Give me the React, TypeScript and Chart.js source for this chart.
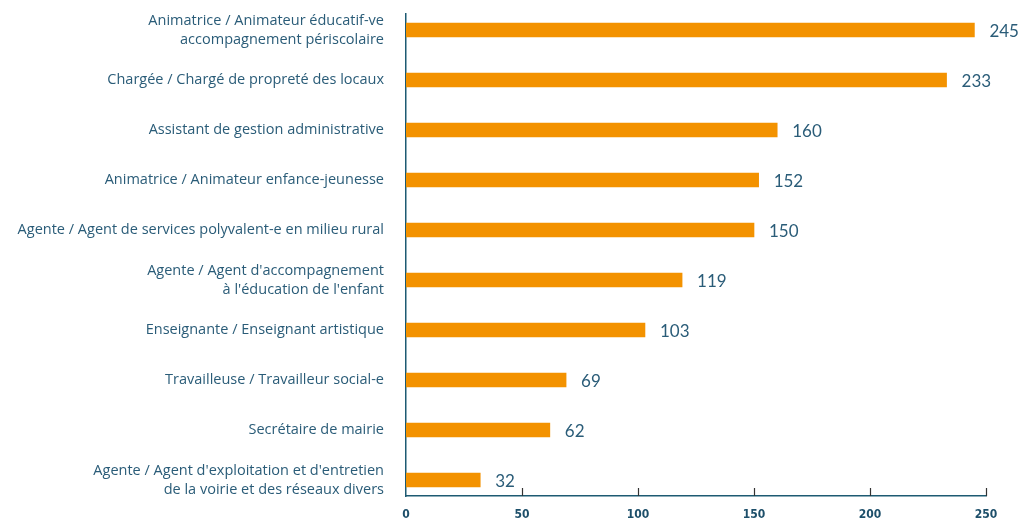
import React, { useEffect, useRef } from "react";
import { Chart, registerables } from "chart.js";

Chart.register(...registerables);

const categories: (string | string[])[] = [
  ["Animatrice / Animateur éducatif-ve", "accompagnement périscolaire"],
  "Chargée / Chargé de propreté des locaux",
  "Assistant de gestion administrative",
  "Animatrice / Animateur enfance-jeunesse",
  "Agente / Agent de services polyvalent-e en milieu rural",
  ["Agente / Agent d'accompagnement", "à l'éducation de l'enfant"],
  "Enseignante / Enseignant artistique",
  "Travailleuse / Travailleur social-e",
  "Secrétaire de mairie",
  ["Agente / Agent d'exploitation et d'entretien", "de la voirie et des réseaux divers"],
];
const values: number[] = [245, 233, 160, 152, 150, 119, 103, 69, 62, 32];
const xTicks: number[] = [0, 50, 100, 150, 200, 250];

const BAR = "#f39200";
const TEXT = "#2a5c78";
const AXIS = "#1d5a72";
const Y_MIN = -0.32;
const Y_MAX = 9.32;

export default function App() {
  const ref = useRef<HTMLCanvasElement | null>(null);
  useEffect(() => {
    if (!ref.current) return;
    const extras = {
      id: "extras",
      afterDatasetsDraw(chart: any) {
        const { ctx, scales, chartArea } = chart;
        const xs = scales.x;
        ctx.save();
        ctx.strokeStyle = "#333";
        ctx.lineWidth = 1.2;
        xTicks.forEach((t) => {
          if (t === 0) return;
          const px = Math.round(xs.getPixelForValue(t)) + 0.5;
          ctx.beginPath();
          ctx.moveTo(px, chartArea.bottom - 8);
          ctx.lineTo(px, chartArea.bottom);
          ctx.stroke();
        });
        ctx.fillStyle = TEXT;
        ctx.font = "17px Lato";
        ctx.textAlign = "left";
        ctx.textBaseline = "middle";
        const meta = chart.getDatasetMeta(0);
        meta.data.forEach((el: any, i: number) => {
          ctx.fillText(String(values[i]), el.x + 15, el.y + 2);
        });
        ctx.restore();
      },
    };
    const chart = new Chart(ref.current, {
      type: "bar",
      data: {
        datasets: [
          {
            data: values.map((v, i) => ({ x: v, y: i })),
            backgroundColor: BAR,
            barThickness: 14,
          },
        ],
      },
      options: {
        indexAxis: "y",
        animation: false,
        responsive: false,
        maintainAspectRatio: false,
        layout: { padding: { top: 14, right: 39, bottom: 0, left: 0 } },
        plugins: { legend: { display: false }, tooltip: { enabled: false } },
        scales: {
          x: {
            type: "linear",
            min: 0,
            max: 250,
            bounds: "data",
            offset: false,
            afterBuildTicks: (s: any) => {
              s.ticks = xTicks.map((v) => ({ value: v }));
              s.min = 0;
              s.max = 250;
            },
            afterFit: (s: any) => {
              s.height = 27;
              s.paddingLeft = 0;
              s.paddingRight = 0;
            },
            grid: { display: false, drawTicks: false },
            border: { display: true, color: AXIS, width: 1.5 },
            ticks: {
              padding: 12,
              color: "#1d4f6a",
              maxRotation: 0,
              font: { family: "DejaVu Sans Condensed", weight: "bold", size: 12 },
            },
          },
          y: {
            type: "linear",
            reverse: true,
            min: Y_MIN,
            max: Y_MAX,
            bounds: "data",
            offset: false,
            afterBuildTicks: (s: any) => {
              s.ticks = categories.map((_, i) => ({ value: i }));
              s.min = Y_MIN;
              s.max = Y_MAX;
            },
            afterFit: (s: any) => {
              s.width = 406;
              s.paddingTop = 0;
              s.paddingBottom = 0;
            },
            grid: { display: false, drawTicks: false, offset: false },
            border: { display: true, color: AXIS, width: 1.5 },
            ticks: {
              padding: 22,
              color: TEXT,
              autoSkip: false,
              font: { family: "Open Sans", size: 14.5, lineHeight: 1.31 },
              callback: (v: any) => categories[v as number] as any,
            },
          },
        },
      },
      plugins: [extras],
    } as any);
    return () => chart.destroy();
  }, []);
  return (
    <div style={{ position: "fixed", left: 0, top: 0, width: 1025, height: 523, background: "#fff" }}>
      <canvas ref={ref} width={1025} height={523} />
    </div>
  );
}
